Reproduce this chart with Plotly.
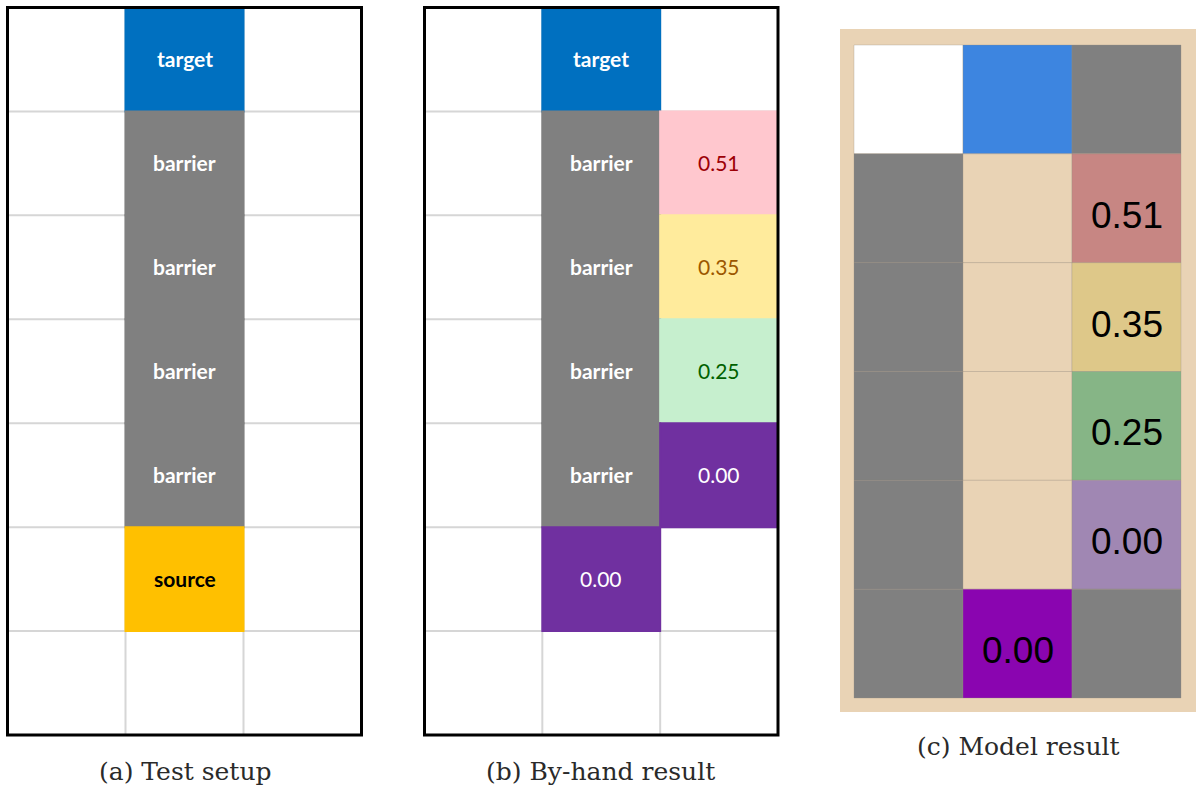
import plotly.graph_objects as go

# ---------------- data ----------------
# Grids are listed top row first; "" marks an empty (unfilled) cell.
setup_kinds = [
    ["", "target", ""],
    ["", "barrier", ""],
    ["", "barrier", ""],
    ["", "barrier", ""],
    ["", "barrier", ""],
    ["", "source", ""],
    ["", "", ""],
]

hand_kinds = [
    ["", "target", ""],
    ["", "barrier", "v051"],
    ["", "barrier", "v035"],
    ["", "barrier", "v025"],
    ["", "barrier", "v000"],
    ["", "v000", ""],
    ["", "", ""],
]
hand_values = [
    [None, None, None],
    [None, None, 0.51],
    [None, None, 0.35],
    [None, None, 0.25],
    [None, None, 0.00],
    [None, 0.00, None],
    [None, None, None],
]

model_kinds = [
    ["empty", "target", "wall"],
    ["wall", "open", "v051"],
    ["wall", "open", "v035"],
    ["wall", "open", "v025"],
    ["wall", "open", "v000"],
    ["wall", "src000", "wall"],
]
model_values = [
    [None, None, None],
    [None, None, 0.51],
    [None, None, 0.35],
    [None, None, 0.25],
    [None, None, 0.00],
    [None, 0.00, None],
]

captions = ["(a) Test setup", "(b) By-hand result", "(c) Model result"]

# ---------------- styles ----------------
sheet_fill = {
    "target": "#0070c0", "barrier": "#808080", "source": "#ffc000",
    "v051": "#ffc7ce", "v035": "#ffeb9c", "v025": "#c6efce", "v000": "#7030a0",
}
sheet_text = {
    "target": "#ffffff", "barrier": "#ffffff", "source": "#000000",
    "v051": "#9c0006", "v035": "#9c5700", "v025": "#006100", "v000": "#ffffff",
}
model_fill = {
    "empty": "#ffffff", "target": "#3d85e0", "wall": "#808080", "open": "#e9d3b5",
    "v051": "#c78683", "v035": "#dec889", "v025": "#86b586", "v000": "#a087b3",
    "src000": "#8a05b0",
}
TAN = "#e9d3b5"
GRID = "#d6d6d6"

W, H = 1196, 789


def frame(gx0, gx1, gy0, gy1, ncols, nrows, pl, pr, pt, pb):
    """Axis domains and ranges so that the cell grid spans the given pixel box."""
    sx = (gx1 - gx0) / ncols
    sy = (gy1 - gy0) / nrows
    xd = [max(0.0, (gx0 - pl) / W), min(1.0, (gx1 + pr) / W)]
    yd = [max(0.0, 1 - (gy1 + pb) / H), min(1.0, 1 - (gy0 - pt) / H)]
    xr = [-pl / sx, ncols + pr / sx]
    yr = [-pb / sy, nrows + pt / sy]
    return xd, yd, xr, yr


fig = go.Figure()
shapes = []
annotations = []

panels = [
    dict(ax="", grid=setup_kinds, box=(7.5, 361.5, 7.5, 735), pads=(4, 4, 4, 4)),
    dict(ax="2", grid=hand_kinds, box=(424.5, 778, 7.5, 735), pads=(4, 4, 4, 4)),
    dict(ax="3", grid=model_kinds, box=(854, 1181, 45, 698), pads=(14, 15, 16, 14)),
]

for p in panels:
    gx0, gx1, gy0, gy1 = p["box"]
    nrows, ncols = len(p["grid"]), len(p["grid"][0])
    pl, pr, pt, pb = p["pads"]
    xd, yd, xr, yr = frame(gx0, gx1, gy0, gy1, ncols, nrows, pl, pr, pt, pb)
    fig.update_layout(**{
        "xaxis" + p["ax"]: dict(domain=xd, range=xr, visible=False, fixedrange=True,
                               anchor="y" + p["ax"]),
        "yaxis" + p["ax"]: dict(domain=yd, range=yr, visible=False, fixedrange=True,
                               anchor="x" + p["ax"]),
    })

# ---- spreadsheet-style panels (a) and (b) ----
for ax, kinds, values in [("", setup_kinds, None), ("2", hand_kinds, hand_values)]:
    xref, yref = "x" + ax, "y" + ax
    nrows, ncols = len(kinds), len(kinds[0])
    # light grid lines
    for c in range(1, ncols):
        shapes.append(dict(type="line", xref=xref, yref=yref, x0=c, x1=c, y0=0, y1=nrows,
                           layer="below", line=dict(color=GRID, width=2)))
    for r in range(1, nrows):
        shapes.append(dict(type="line", xref=xref, yref=yref, x0=0, x1=ncols, y0=r, y1=r,
                           layer="below", line=dict(color=GRID, width=2)))
    for r, row in enumerate(kinds):
        for c, kind in enumerate(row):
            if not kind:
                continue
            yb = nrows - r - 1
            col = sheet_fill[kind]
            shapes.append(dict(type="rect", xref=xref, yref=yref, x0=c, x1=c + 1,
                               y0=yb, y1=yb + 1, fillcolor=col, layer="below",
                               line=dict(color=col, width=2)))
            if values is not None and values[r][c] is not None:
                label = f"{values[r][c]:.2f}"
            else:
                label = f"<b>{kind}</b>"
            annotations.append(dict(text=label, x=c + 0.5, y=yb + 0.5, xref=xref, yref=yref,
                                    showarrow=False, xanchor="center", yanchor="middle",
                                    yshift=1,
                                    font=dict(family="Lato", size=21, color=sheet_text[kind])))
    # outer frame
    shapes.append(dict(type="rect", xref=xref, yref=yref, x0=0, x1=ncols, y0=0, y1=nrows,
                       layer="above", line=dict(color="#000000", width=3)))

# ---- model panel (c) ----
nrows, ncols = len(model_kinds), len(model_kinds[0])
shapes.append(dict(type="rect", xref="x3 domain", yref="y3 domain", x0=0, x1=1, y0=0, y1=1,
                   fillcolor=TAN, layer="below", line=dict(width=0)))
for r, row in enumerate(model_kinds):
    for c, kind in enumerate(row):
        yb = nrows - r - 1
        shapes.append(dict(type="rect", xref="x3", yref="y3", x0=c, x1=c + 1,
                           y0=yb, y1=yb + 1, fillcolor=model_fill[kind], layer="below",
                           line=dict(color="rgba(150,140,130,0.3)", width=1)))
        if model_values[r][c] is not None:
            annotations.append(dict(text=f"{model_values[r][c]:.2f}", x=c + 0.5, y=yb + 0.5,
                                    xref="x3", yref="y3", showarrow=False,
                                    xanchor="center", yanchor="middle", yshift=-7,
                                    font=dict(family="Liberation Sans", size=37,
                                              color="#000000")))

# ---- captions ----
cap_pos = [(185, 771), (600, 771), (1018, 746)]
for text, (cx, cy) in zip(captions, cap_pos):
    annotations.append(dict(text=text, x=cx / W, y=1 - cy / H, xref="paper", yref="paper",
                            showarrow=False, xanchor="center", yanchor="middle",
                            font=dict(family="DejaVu Serif", size=25, color="#2a2a2a")))

fig.update_layout(width=W, height=H, margin=dict(l=0, r=0, t=0, b=0),
                  paper_bgcolor="#ffffff", plot_bgcolor="rgba(0,0,0,0)",
                  shapes=shapes, annotations=annotations, showlegend=False)

fig.write_html("out.html", config={"displayModeBar": False})
